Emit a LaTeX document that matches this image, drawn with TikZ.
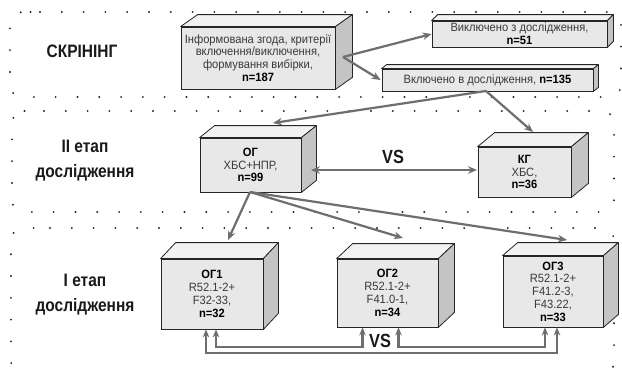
\documentclass[tikz,border=0pt]{standalone}
\usepackage{fontspec}
\setmainfont{Liberation Sans}[FakeStretch=0.86]
\newfontfamily\bodyf{Liberation Sans}[FakeStretch=0.93]
\usetikzlibrary{arrows.meta,calc}
\definecolor{frontc}{HTML}{E8E8E8}
\definecolor{topc}{HTML}{F2F2F2}
\definecolor{sidec}{HTML}{C4C4C4}
\definecolor{arrc}{HTML}{6E6E6E}
\definecolor{txtc}{HTML}{3A3A3A}
\newcommand\cub[3]{% name, dx, dy
  \draw[facestyle,fill=topc] (#1.north west) -- ++(#2,#3) -- ($(#1.north east)+(#2,#3)$) -- (#1.north east) -- cycle;
  \draw[facestyle,fill=sidec] (#1.north east) -- ++(#2,#3) -- ($(#1.south east)+(#2,#3)$) -- (#1.south east) -- cycle;
}
\begin{document}
\begin{tikzpicture}[x=1pt,y=-1pt,
  facestyle/.style={draw=black!85,line width=0.8pt,line join=round},
  boxn/.style={draw=black!85,line width=0.8pt,fill=frontc,inner sep=0pt,align=center,
     font=\bodyf\fontsize{12}{12.8}\selectfont,text=txtc},
  heading/.style={font=\fontsize{18}{25}\selectfont\bfseries,align=center,text=black!90},
  dotfr/.style={draw=black!85,line width=2.1pt,dash pattern=on 0pt off 21.8pt,line cap=round,rounded corners=12pt},
  arr/.style={draw=arrc,line width=2.2pt,-{Stealth[length=9pt,width=7.5pt]}},
  arrb/.style={draw=arrc,line width=2.2pt,{Stealth[length=9pt,width=7.5pt]}-{Stealth[length=9pt,width=7.5pt]}},
  arrs/.style={draw=arrc,line width=2.1pt,{Stealth[length=8pt,width=6.5pt]}-{Stealth[length=8pt,width=6.5pt]}},
  vs/.style={font=\fontsize{19}{20}\selectfont\bfseries,text=black!90}]
\useasboundingbox (0,0) rectangle (622,368);
\fill[white] (0,0) rectangle (622,368);
% dotted frames
\draw[dotfr] (28,12) -- (621,12) -- (621,97) -- (10,97) -- (10,12) -- cycle;
\draw[dotfr] (32,111) -- (614,111) -- (614,212) -- (12,212) -- (12,111) -- cycle;
\draw[dotfr] (38,228) -- (614,228) -- (614,374) -- (11,374) -- (11,228) -- cycle;
% headings
\node[heading] (h1) at (82,51) {СКРІНІНГ};
\node[heading] (h2) at (85,161) {II етап\\дослідження};
\node[heading] (h3) at (85,295) {I етап\\дослідження};
% boxes
\node[boxn,minimum width=154pt,minimum height=62pt] (A) at (258,58)
  {Інформована згода, критерії\\включення/виключення,\\формування вибірки,\\\textbf{\textcolor{black}{n=187}}};
\cub{A}{17}{-12}
\node[boxn,minimum width=175pt,minimum height=26pt] (B) at (519.5,34)
  {Виключено з дослідження,\\\textbf{\textcolor{black}{n=51}}};
\cub{B}{6}{-6}
\node[boxn,minimum width=211pt,minimum height=22pt] (C) at (487.5,80)
  {Включено в дослідження, \textbf{\textcolor{black}{n=135}}};
\cub{C}{5}{-4}
\node[boxn,minimum width=101pt,minimum height=54pt] (D) at (250.5,165)
  {\textbf{\textcolor{black}{ОГ}}\\ХБС+НПР,\\\textbf{\textcolor{black}{n=99}}};
\cub{D}{15}{-12}
\node[boxn,minimum width=93pt,minimum height=50pt] (E) at (524.5,172)
  {\textbf{\textcolor{black}{КГ}}\\ХБС,\\\textbf{\textcolor{black}{n=36}}};
\cub{E}{17}{-14}
\node[boxn,minimum width=102pt,minimum height=70pt] (F) at (212,294)
  {\textbf{\textcolor{black}{ОГ1}}\\R52.1-2+\\F32-33,\\\textbf{\textcolor{black}{n=32}}};
\cub{F}{15}{-16}
\node[boxn,minimum width=101pt,minimum height=68pt] (G) at (387.5,293)
  {\textbf{\textcolor{black}{ОГ2}}\\R52.1-2+\\F41.0-1,\\\textbf{\textcolor{black}{n=34}}};
\cub{G}{16}{-15}
\node[boxn,minimum width=100pt,minimum height=71pt] (H) at (553,291.5)
  {\textbf{\textcolor{black}{ОГ3}}\\R52.1-2+\\F41.2-3,\\F43.22,\\\textbf{\textcolor{black}{n=33}}};
\cub{H}{15}{-13}
% connector points
\coordinate (asrc) at (343,57);
\coordinate (csrc) at (486,91);
\coordinate (dtop) at (273,123);
\coordinate (etop) at (533,132);
\coordinate (dside) at (311,170);
\coordinate (eleft) at (477,170);
\coordinate (dsrc) at (250,192);
\coordinate (ftop) at (228,240);
\coordinate (gtop) at (403,238);
\coordinate (htop) at (567,240);
% arrows
\draw[arr] (asrc) -- (B.west);
\draw[arr] (asrc) -- ([xshift=-1pt]C.west);
\draw[arr] (csrc) -- (dtop);
\draw[arr] (csrc) -- (etop);
\draw[arrb] (dside) -- (eleft);
\node[vs] (vs1) at (393,157) {VS};
\draw[arr] (dsrc) -- (ftop);
\draw[arr] (dsrc) -- (gtop);
\draw[arr] (dsrc) -- (htop);
% bottom comparisons
\draw[arrs] ([xshift=-6pt]F.south) -- ([xshift=-6pt]$(F.south)+(0,24)$) -| ([xshift=4pt]H.south);
\draw[arrs] ([xshift=4pt]F.south) -- ([xshift=4pt]$(F.south)+(0,18)$) -| ([xshift=-25pt]G.south);
\draw[arrs] ([xshift=11pt]G.south) -- ([xshift=11pt]$(G.south)+(0,20)$) -| ([xshift=-8pt]H.south);
\node[vs] (vs2) at (380,341) {VS};
\end{tikzpicture}
\end{document}
